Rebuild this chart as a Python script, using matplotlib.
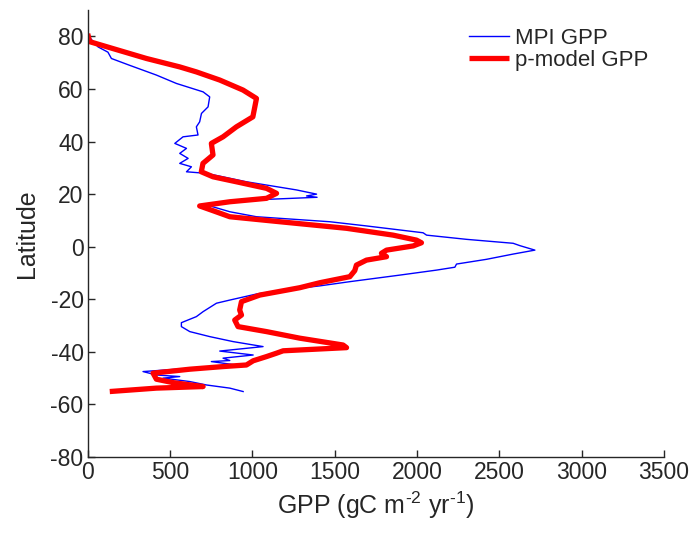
import matplotlib
matplotlib.use("Agg")
import matplotlib.pyplot as plt

plt.rcParams['font.family'] = ['Liberation Sans', 'DejaVu Sans']
plt.rcParams['mathtext.fontset'] = 'custom'
plt.rcParams['mathtext.rm'] = 'Liberation Sans'

# MPI GPP (x = GPP, y = latitude)
mpi_gpp = [20, 63, 123, 144, 255, 417, 539, 701, 741, 731, 691, 680, 660, 670, 579, 529, 600, 559,
           610, 559, 630, 600, 721, 964, 1268, 1390, 1329, 1393, 1086, 721, 863, 1025, 1470, 1693,
           2037, 2058, 2301, 2584, 2625, 2716, 2584, 2422, 2240, 2230, 2119, 1896, 1592, 1410, 1187,
           1025, 863, 782, 701, 660, 569, 569, 620, 741, 883, 1065, 802, 1005, 822, 863, 751, 903,
           336, 417, 559, 458, 620, 721, 863, 944]
mpi_lat = [79, 76, 74, 71.6, 69, 65.3, 62.1, 58.9, 57, 53.2, 50.7, 47.5, 45.6, 42.5, 41.8, 39.3, 37.4, 35.5,
           33.6, 31.7, 30.4, 28.5, 27.9, 24.7, 21.6, 20, 19.3, 18.8, 18, 15.9, 13.3, 11.4, 9.5, 7.9,
           5.3, 4.4, 2.8, 1.3, 0.4, -1.3, -2.8, -4.8, -6.6, -7.8, -8.9, -10.8, -13.3, -14.9, -16.5,
           -18, -20.3, -21.5, -24.7, -26.6, -28.9, -30.4, -32.3, -34.2, -36.1, -38, -39.7, -41.2, -42.4, -43.3, -43.7, -45,
           -47.5, -48.8, -49.4, -50, -51.3, -52.6, -53.8, -55.1]

# p-model GPP
pmodel_gpp = [0, 12, 152, 357, 559, 660, 802, 943, 1025, 1015, 1003, 903, 822, 751, 761, 700, 690, 761,
              903, 1086, 1147, 1086, 863, 680, 761, 863, 1167, 1572, 1855, 1997, 2027, 1977, 1815, 1784,
              1815, 1693, 1632, 1622, 1592, 1410, 1288, 1045, 934, 923, 934, 893, 913, 1086, 1288, 1551,
              1572, 1187, 1147, 1086, 1005, 964, 822, 620, 397, 417, 518, 701, 417, 134]
pmodel_lat = [81, 78, 75.4, 71.6, 68.4, 66.5, 63.4, 59.6, 56.4, 53.2, 49.4, 45.6, 41.8, 39.3, 34.9, 31.7, 28.5, 26.6,
              24.7, 22.2, 20.3, 18.4, 17.1, 15.5, 13.7, 11.4, 9.5, 7, 4.4, 2.5, 1.5, 0.3, -1.3, -2.5,
              -3.8, -5.1, -7, -9.1, -11.4, -13.7, -15.6, -18.4, -20.9, -24.1, -26, -27.9, -30.4, -32.3, -34.8, -37.4,
              -38.4, -39.6, -40.5, -41.8, -43.4, -45, -45.6, -46.6, -48.1, -50.4, -51.7, -53.2, -53.8, -55.1]

xticks = [0, 500, 1000, 1500, 2000, 2500, 3000, 3500]
yticks = [-80, -60, -40, -20, 0, 20, 40, 60, 80]

fig = plt.figure(figsize=(6.96, 5.33), dpi=100)
ax = fig.add_axes([0.126, 0.1426, 0.828, 0.8384])

ax.plot(mpi_gpp, mpi_lat, color='#0000ff', lw=1.0, label='MPI GPP')
ax.plot(pmodel_gpp, pmodel_lat, color='#ff0000', lw=3.8, label='p-model GPP',
        solid_joinstyle='round', solid_capstyle='butt')

ax.set_xlim(0, 3500)
ax.set_ylim(-80, 90)
ax.set_xticks(xticks)
ax.set_yticks(yticks)
ax.set_xticklabels([str(v) for v in xticks])
ax.set_yticklabels([str(v) for v in yticks])
for s in ['top', 'right']:
    ax.spines[s].set_visible(False)
for s in ['left', 'bottom']:
    ax.spines[s].set_color('#262626')
    ax.spines[s].set_linewidth(1.0)
ax.tick_params(direction='in', length=5, width=1, colors='#262626', labelsize=16.5,
               labelcolor='#262626', pad=3)

ax.set_xlabel(r'GPP (gC m$^{\mathrm{\text{-}2}}$ yr$^{\mathrm{\text{-}1}}$)', fontsize=18,
              color='#262626', labelpad=4)
ax.set_ylabel('Latitude', fontsize=18, color='#262626', labelpad=8)

leg = ax.legend(loc='upper right', bbox_to_anchor=(1.0, 0.995), frameon=False, fontsize=16,
                handlelength=1.8, handletextpad=0.25, labelspacing=0.05, borderpad=0.2)
for t in leg.get_texts():
    t.set_color('#262626')

fig.savefig('out.png', dpi=100)
